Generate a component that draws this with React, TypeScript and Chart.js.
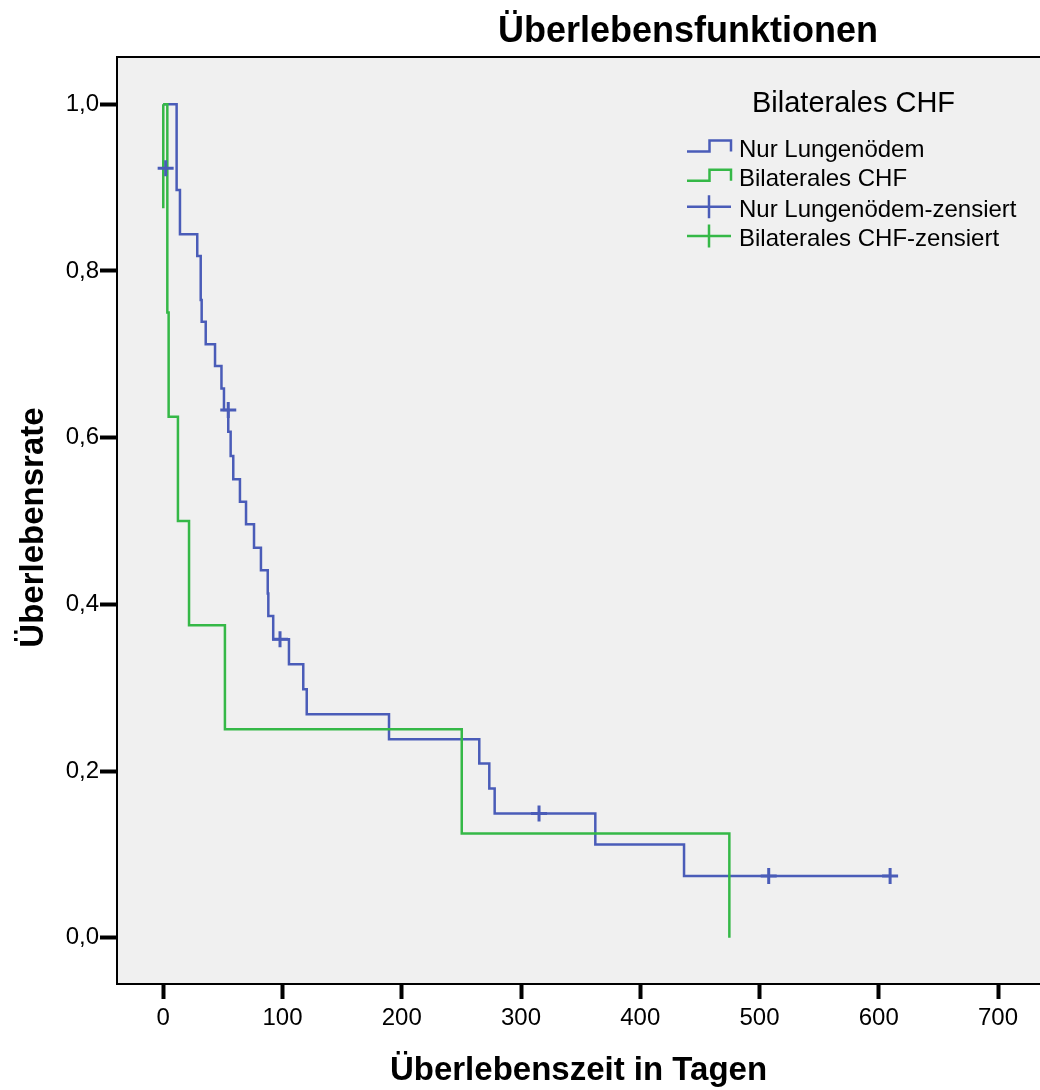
import React, { useEffect, useRef } from 'react';
import { Chart, registerables } from 'chart.js';

Chart.register(...registerables);

const chartTitle = 'Überlebensfunktionen';
const xAxisTitle = 'Überlebenszeit in Tagen';
const yAxisTitle = 'Überlebensrate';
const legendTitle = 'Bilaterales CHF';
const seriesNames = ['Nur Lungenödem', 'Bilaterales CHF', 'Nur Lungenödem-zensiert', 'Bilaterales CHF-zensiert'];

const xTickValues = [0, 100, 200, 300, 400, 500, 600, 700];
const yTickValues = [0, 0.2, 0.4, 0.6, 0.8, 1.0];
const yTickLabels = ['0,0', '0,2', '0,4', '0,6', '0,8', '1,0'];

// Nur Lungenödem: step times (days) and survival after each step
const lungTimes = [0, 11.2, 14.0, 28.5, 31.4, 32.2, 35.6, 43.4, 48.8, 50.9, 54.5, 56.5, 58.7, 64.3, 69.4, 76.1, 81.9, 87.6, 88.1, 92.2, 105.4, 117.4, 120.3, 189.3, 265.0, 273.4, 277.9, 362.3, 436.7, 609.5];
const lungSurvival = [1, 0.897, 0.844, 0.818, 0.765, 0.739, 0.712, 0.686, 0.659, 0.633, 0.607, 0.578, 0.550, 0.523, 0.496, 0.468, 0.441, 0.413, 0.386, 0.358, 0.328, 0.298, 0.268, 0.238, 0.209, 0.179, 0.149, 0.112, 0.074, 0.074];
// Nur Lungenödem censored cases
const lungCensorTimes = [2.0, 54.5, 97.9, 315.1, 507.7, 609.5];
const lungCensorSurvival = [0.923, 0.633, 0.358, 0.149, 0.074, 0.074];

// Bilaterales CHF: step times and survival after each step
const chfTimes = [0, 3.4, 4.5, 12.3, 21.6, 51.7, 250.3, 474.7];
const chfSurvival = [1, 0.75, 0.625, 0.5, 0.375, 0.25, 0.125, 0];
// Bilaterales CHF: initial drop drawn at day 0
const chfDropTimes = [0, 0];
const chfDropSurvival = [1, 0.875];
// Bilaterales CHF censored cases (none visible)
const chfCensorTimes: number[] = [];
const chfCensorSurvival: number[] = [];

const BLUE = '#4a5cb8';
const GREEN = '#35b847';
const FONT = "'Liberation Sans', Arial, Helvetica, sans-serif";

const toPts = (xs: number[], ys: number[]) => xs.map((x, i) => ({ x, y: ys[i] }));

const decorPlugin = {
  id: 'decor',
  beforeDraw(chart: any) {
    const { ctx, chartArea: a } = chart;
    ctx.save();
    ctx.fillStyle = '#f0f0f0';
    ctx.fillRect(a.left, a.top, a.right - a.left, a.bottom - a.top);
    ctx.restore();
  },
  afterDraw(chart: any) {
    const { ctx, chartArea: a } = chart;
    ctx.save();
    // top border of plot
    ctx.strokeStyle = '#000';
    ctx.lineWidth = 2;
    ctx.beginPath();
    ctx.moveTo(a.left - 1, a.top);
    ctx.lineTo(a.right, a.top);
    ctx.stroke();

    ctx.fillStyle = '#000';
    ctx.textBaseline = 'alphabetic';
    // chart title
    ctx.font = `bold 36px ${FONT}`;
    ctx.textAlign = 'center';
    ctx.fillText(chartTitle, 688, 42);
    // x axis title
    ctx.font = `bold 33px ${FONT}`;
    ctx.fillText(xAxisTitle, (a.left + a.right) / 2, 1080);
    // y axis title
    ctx.save();
    ctx.translate(43, (a.top + a.bottom) / 2 + 7);
    ctx.rotate(-Math.PI / 2);
    ctx.fillText(yAxisTitle, 0, 0);
    ctx.restore();

    // legend
    ctx.textAlign = 'left';
    ctx.font = `29px ${FONT}`;
    ctx.fillText(legendTitle, 752, 111.7);
    ctx.font = `24px ${FONT}`;
    const baselines = [156.7, 186, 216.7, 246];
    const colors = [BLUE, GREEN, BLUE, GREEN];
    baselines.forEach((b, i) => {
      ctx.fillStyle = '#000';
      ctx.fillText(seriesNames[i], 739, b);
      ctx.strokeStyle = colors[i];
      ctx.lineWidth = 2.5;
      ctx.beginPath();
      if (i < 2) {
        const low = b - 5.3;
        const high = low - 11;
        ctx.moveTo(687, low);
        ctx.lineTo(709.5, low);
        ctx.lineTo(709.5, high);
        ctx.lineTo(731, high);
        ctx.lineTo(731, low);
      } else {
        const cy = b - 10;
        ctx.moveTo(687, cy);
        ctx.lineTo(731, cy);
        ctx.moveTo(709, cy - 11.5);
        ctx.lineTo(709, cy + 11.5);
      }
      ctx.stroke();
    });
    ctx.restore();
  },
};

export default function App() {
  const ref = useRef<HTMLCanvasElement | null>(null);

  useEffect(() => {
    if (!ref.current) return;
    const chart = new Chart(ref.current, {
      type: 'scatter',
      data: {
        datasets: [
          {
            label: seriesNames[2],
            data: toPts(lungCensorTimes, lungCensorSurvival),
            showLine: false,
            pointStyle: 'cross',
            pointRadius: 8,
            pointBorderWidth: 3,
            borderColor: BLUE,
            backgroundColor: BLUE,
          },
          {
            label: seriesNames[3],
            data: toPts(chfCensorTimes, chfCensorSurvival),
            showLine: false,
            pointStyle: 'cross',
            pointRadius: 8,
            pointBorderWidth: 3,
            borderColor: GREEN,
            backgroundColor: GREEN,
          },
          {
            label: seriesNames[1] + ' (0)',
            data: toPts(chfDropTimes, chfDropSurvival),
            showLine: true,
            pointRadius: 0,
            borderWidth: 2.5,
            borderColor: GREEN,
          },
          {
            label: seriesNames[1],
            data: toPts(chfTimes, chfSurvival),
            showLine: true,
            stepped: 'before',
            pointRadius: 0,
            borderWidth: 2.5,
            borderColor: GREEN,
          },
          {
            label: seriesNames[0],
            data: toPts(lungTimes, lungSurvival),
            showLine: true,
            stepped: 'before',
            pointRadius: 0,
            borderWidth: 2.5,
            borderColor: BLUE,
          },
        ],
      },
      options: {
        animation: false,
        responsive: false,
        devicePixelRatio: 1,
        layout: { autoPadding: false, padding: { top: 57, left: 0, right: 0, bottom: 0 } },
        plugins: {
          legend: { display: false },
          title: { display: false },
          tooltip: { enabled: false },
        },
        scales: {
          x: {
            type: 'linear',
            min: -38.8,
            max: 735.2,
            afterBuildTicks: (s: any) => {
              s.ticks = xTickValues.map((v) => ({ value: v }));
            },
            afterFit: (s: any) => {
              s.height = 106;
              s.paddingLeft = 0;
              s.paddingRight = 0;
            },
            grid: { drawOnChartArea: false, drawTicks: true, tickLength: 15, tickWidth: 4, tickColor: '#000' },
            border: { display: true, color: '#000', width: 2 },
            ticks: {
              color: '#000',
              font: { family: FONT, size: 24 },
              padding: 5,
              maxRotation: 0,
              autoSkip: false,
              callback: (v: any) => String(v),
            },
          },
          y: {
            type: 'linear',
            min: -0.0555,
            max: 1.0566,
            afterBuildTicks: (s: any) => {
              s.ticks = yTickValues.map((v) => ({ value: v }));
            },
            afterFit: (s: any) => {
              s.width = 117;
              s.paddingTop = 0;
              s.paddingBottom = 0;
            },
            grid: { drawOnChartArea: false, drawTicks: true, tickLength: 17, tickWidth: 4, tickColor: '#000' },
            border: { display: true, color: '#000', width: 2 },
            ticks: {
              color: '#000',
              font: { family: FONT, size: 24 },
              padding: 1,
              autoSkip: false,
              callback: (_v: any, i: number) => yTickLabels[i],
            },
          },
        },
      },
      plugins: [decorPlugin],
    } as any);
    return () => chart.destroy();
  }, []);

  return (
    <div style={{ position: 'absolute', left: 0, top: 0, width: 1040, height: 1090, background: '#fff' }}>
      <canvas ref={ref} width={1040} height={1090} style={{ display: 'block', width: 1040, height: 1090 }} />
    </div>
  );
}
